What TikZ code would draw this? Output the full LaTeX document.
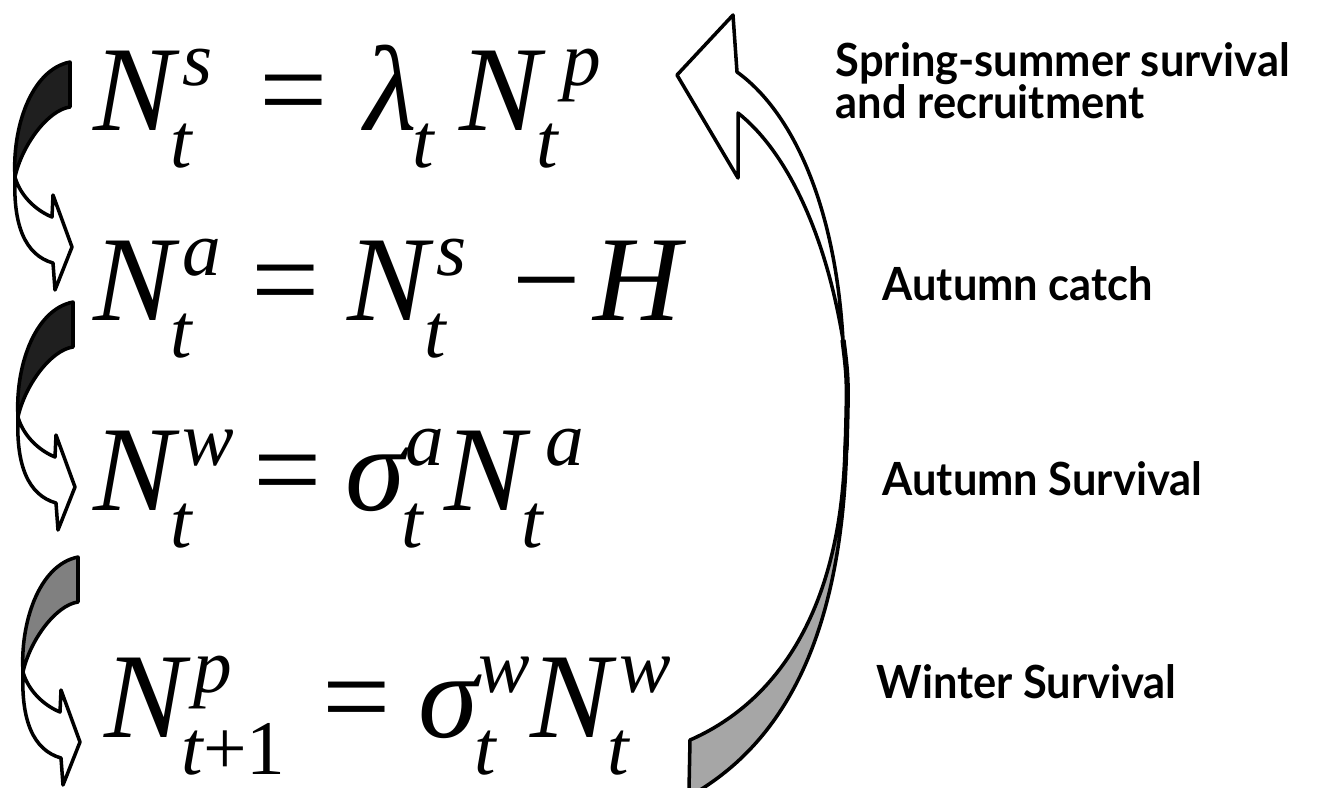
\documentclass[tikz,border=0pt]{standalone}
\usepackage{fontspec}
\usepackage{tikz}
\usetikzlibrary{positioning}
\newfontfamily\eqfont{Liberation Serif}
\newfontfamily\labfont{Lato}
\newcommand\idxfont{\fontsize{22}{22}\selectfont\itshape}
% superscript over subscript, MathType style
\newcommand\supsub[3][0.08cm]{%
  \setbox0=\hbox{\kern#1\idxfont #2}%
  \setbox2=\hbox{\kern-0.04cm\idxfont #3}%
  \ifdim\wd0>\wd2 \dimen0=\wd0 \else \dimen0=\wd2 \fi
  \hbox to \dimen0{\rlap{\raise 0.44cm\copy0}\lower 0.37cm\copy2\hfil}}
\newcommand\squeeze[1]{\scalebox{0.95}[1]{#1}}

\begin{document}
\begin{tikzpicture}[x=0.01cm, y=-0.01cm,
    eq/.style={anchor=base west, inner sep=0pt, font=\eqfont\itshape\fontsize{34.5}{40}\selectfont},
    lab/.style={anchor=base west, inner sep=0pt, font=\labfont\bfseries\fontsize{13}{16}\selectfont},
    ribbon/.style={draw=black, line width=1pt, line join=round},
    ribbonfront/.style={ribbon, fill=white}]
  \useasboundingbox (0,0) rectangle (1330,787);

  % left twisted arrows
  \foreach \dx/\dy/\col in {0/0/black!88, 3/240/black!88, 8/495/black!50} {
    \begin{scope}[shift={(\dx,\dy)}]
      \draw[ribbon, fill=\col] (70,62) -- (70,107) .. controls (48,110) and (22,145) .. (15,177)
        .. controls (12,130) and (30,70) .. (70,62) -- cycle;
      \draw[ribbonfront] (15,177) .. controls (13,225) and (25,255) .. (53,263) -- (55,290) -- (72,247)
        -- (53,195) -- (52,217) .. controls (35,210) and (20,195) .. (15,177) -- cycle;
    \end{scope}
  }

  % big return arrow
  \draw[ribbon, fill=black!35] (847,420) .. controls (847,640) and (780,740) .. (700,790) -- (689,790)
    -- (690,740) .. controls (770,705) and (840,620) .. (845,450) -- cycle;
  \draw[line width=1.5pt] (843,340) .. controls (848,380) .. (846,450);
  \draw[ribbonfront] (843,340) .. controls (835,200) and (790,110) .. (737,72) -- (733,15) -- (677,75)
    -- (738,178) -- (738,113) .. controls (785,150) and (825,230) .. (843,340) -- cycle;

  % equations
  \node[eq] (e1) at (93,130) {N\supsub{s}{t}\hspace{0.47cm}{\upshape =}\hspace{0.36cm}λ\supsub[0pt]{}{t}\hspace{0.25cm}N\supsub[0.22cm]{p}{t}};
  \node[eq] (e2) at (93,320) {N\supsub{a}{t}\hspace{0.3cm}{\upshape =}\hspace{0.28cm}N\supsub{s}{t}\hspace{0.46cm}{\upshape −}\hspace{0.12cm}H};
  \node[eq] (e3) at (93,510) {N\supsub{w}{t}\hspace{0.19cm}{\upshape =}\hspace{0.24cm}σ\supsub[0pt]{a}{t}N\supsub[0.2cm]{a}{t}};
  \node[eq] (e4) at (104,737) {N\supsub{p}{t{\upshape +1}}\hspace{0.37cm}{\upshape =}\hspace{0.28cm}σ\supsub[0pt]{w}{t}N\supsub{w}{t}};

  % stage labels
  \node[lab] (l1a) at (835,76) {\squeeze{Spring-summer survival}};
  \node[lab] (l1b) at (835,118) {\squeeze{and recruitment}};
  \node[lab] (l2) at (882,300) {\squeeze{Autumn catch}};
  \node[lab] (l3) at (882,495) {\squeeze{Autumn Survival}};
  \node[lab] (l4) at (876,698) {\squeeze{Winter Survival}};
\end{tikzpicture}
\end{document}
